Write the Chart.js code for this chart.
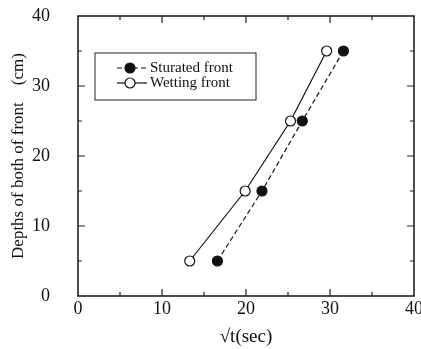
<!DOCTYPE html>
<html>
<head>
<meta charset="utf-8">
<script src="https://cdn.jsdelivr.net/npm/chart.js@4.4.0/dist/chart.umd.min.js"></script>
<style>
  html, body { margin: 0; padding: 0; background: #fff; }
  #wrap { width: 421px; height: 349px; }
</style>
</head>
<body>
<div id="wrap"><canvas id="chart"></canvas></div>
<script>
// values
const depths = [5, 15, 25, 35];
const saturatedX = [16.6, 21.9, 26.7, 31.6];
const wettingX = [13.3, 19.9, 25.3, 29.6];
const seriesNames = ['Sturated front', 'Wetting front'];
const axisMin = 0, axisMax = 40, majorStep = 10, minorStep = 5;

const serif = "'Liberation Serif', 'Times New Roman', serif";

function toPoints(xs, ys) {
    return xs.map((x, i) => ({ x: x, y: ys[i] }));
}

// frame with inward ticks on all four sides
const framePlugin = {
    id: 'frame',
    afterDraw(chart) {
        const ctx = chart.ctx;
        const a = chart.chartArea;
        const xs = chart.scales.x, ys = chart.scales.y;
        ctx.save();
        ctx.strokeStyle = '#222';
        ctx.lineWidth = 1.6;
        ctx.strokeRect(a.left, a.top, a.right - a.left, a.bottom - a.top);
        ctx.lineWidth = 1.2;
        ctx.beginPath();
        for (let v = axisMin + minorStep; v < axisMax; v += minorStep) {
            const len = v % majorStep === 0 ? 7 : 4;
            const px = xs.getPixelForValue(v);
            ctx.moveTo(px, a.bottom); ctx.lineTo(px, a.bottom - len);
            ctx.moveTo(px, a.top); ctx.lineTo(px, a.top + len);
            const py = ys.getPixelForValue(v);
            ctx.moveTo(a.left, py); ctx.lineTo(a.left + len, py);
            ctx.moveTo(a.right, py); ctx.lineTo(a.right - len, py);
        }
        ctx.stroke();
        ctx.restore();
    }
};

// boxed legend inside the plot
const legendBoxPlugin = {
    id: 'legendBox',
    afterDraw(chart) {
        const ctx = chart.ctx;
        const a = chart.chartArea;
        const bx = a.left + 17, by = a.top + 37, bw = 161, bh = 47;
        ctx.save();
        ctx.strokeStyle = '#222';
        ctx.lineWidth = 1;
        ctx.strokeRect(bx, by, bw, bh);
        chart.data.datasets.forEach((ds, i) => {
            const y = by + 15 + i * 15;
            const x0 = bx + 22, x1 = bx + 52, cx = bx + 35;
            ctx.strokeStyle = '#111';
            ctx.lineWidth = 1.2;
            ctx.setLineDash(ds.borderDash || []);
            ctx.beginPath();
            ctx.moveTo(x0, y); ctx.lineTo(x1, y);
            ctx.stroke();
            ctx.setLineDash([]);
            ctx.beginPath();
            ctx.arc(cx, y, 5, 0, Math.PI * 2);
            ctx.fillStyle = ds.pointBackgroundColor;
            ctx.fill();
            ctx.stroke();
            ctx.fillStyle = '#111';
            ctx.font = '15px ' + serif;
            ctx.textBaseline = 'middle';
            ctx.fillText(ds.label, bx + 55, y);
        });
        ctx.restore();
    }
};

new Chart(document.getElementById('chart'), {
    type: 'scatter',
    data: {
        datasets: [{
            label: seriesNames[0],
            data: toPoints(saturatedX, depths),
            showLine: true,
            borderColor: '#111',
            borderWidth: 1.2,
            borderDash: [5, 3],
            pointRadius: 5,
            pointBackgroundColor: '#111',
            pointBorderColor: '#111',
            pointBorderWidth: 1.2
        }, {
            label: seriesNames[1],
            data: toPoints(wettingX, depths),
            showLine: true,
            borderColor: '#111',
            borderWidth: 1.2,
            pointRadius: 5,
            pointBackgroundColor: '#fff',
            pointBorderColor: '#111',
            pointBorderWidth: 1.2
        }]
    },
    options: {
        responsive: true,
        maintainAspectRatio: false,
        animation: false,
        layout: { padding: { left: 0, right: 7, top: 16, bottom: 0 } },
        plugins: {
            legend: { display: false },
            tooltip: { enabled: false }
        },
        scales: {
            x: {
                type: 'linear',
                min: axisMin,
                max: axisMax,
                grid: { display: false, drawTicks: false },
                border: { display: false },
                ticks: {
                    stepSize: majorStep,
                    color: '#111',
                    padding: 2,
                    maxRotation: 0,
                    font: { family: serif, size: 18 }
                },
                title: {
                    display: true,
                    text: '\u221At(sec)',
                    color: '#111',
                    padding: { top: 0, bottom: 1 },
                    font: { family: serif, size: 19 }
                },
                afterFit(scale) {
                    scale.height = 53;
                    scale.paddingLeft = 0;
                    scale.paddingRight = 0;
                }
            },
            y: {
                type: 'linear',
                min: axisMin,
                max: axisMax,
                grid: { display: false, drawTicks: false },
                border: { display: false },
                ticks: {
                    stepSize: majorStep,
                    color: '#111',
                    padding: 28,
                    font: { family: serif, size: 18 }
                },
                title: {
                    display: true,
                    text: 'Depths of both of front\u00a0\u00a0\u00a0\u00a0(cm)',
                    color: '#111',
                    padding: { top: 8, bottom: 0 },
                    font: { family: serif, size: 17 }
                },
                afterFit(scale) {
                    scale.width = 78;
                    scale.paddingTop = 0;
                    scale.paddingBottom = 0;
                }
            }
        }
    },
    plugins: [framePlugin, legendBoxPlugin]
});
</script>
</body>
</html>
